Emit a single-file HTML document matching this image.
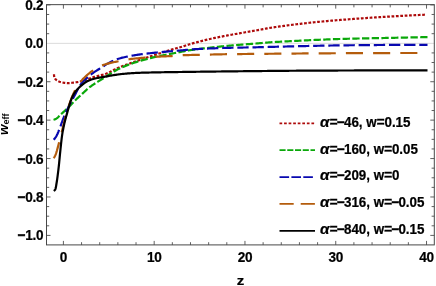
<!DOCTYPE html>
<html><head><meta charset="utf-8"><title>w_eff vs z</title>
<style>
html,body{margin:0;padding:0;background:#fff;}
div{will-change:transform;}
body{width:436px;height:286px;position:relative;overflow:hidden;font-family:"Liberation Sans",sans-serif;font-weight:bold;color:#000;}
.yl{position:absolute;left:0;width:43px;text-align:right;font-size:13.6px;letter-spacing:-0.3px;line-height:16px;height:16px;white-space:nowrap;}
.xl{position:absolute;top:250px;width:40px;text-align:center;font-size:13.6px;letter-spacing:-0.3px;line-height:16px;}
.lg{position:absolute;left:320px;font-size:13.4px;line-height:16px;white-space:nowrap;}
.zl{position:absolute;left:230px;width:20px;text-align:center;top:272.6px;font-size:13.4px;transform:translate(0.55px,0) scaleX(1.12);line-height:16px;}
.wl{position:absolute;left:-16.2px;top:116.4px;width:40px;height:16px;line-height:16px;font-size:12px;transform:rotate(-90deg);transform-origin:center center;text-align:center;white-space:nowrap;}
.wl i{display:inline-block;transform:scaleX(1.12);transform-origin:right center;will-change:auto;}
.yl,.xl{transform-origin:50% 58%;}
.lg{transform-origin:0 78%;}
.yl,.xl,.lg,.zl{-webkit-text-stroke:0.22px #000;}
.yl b,.lg b{-webkit-text-stroke:0.42px #000;}
.lg i{display:inline-block;transform:scaleX(1.14);transform-origin:left center;margin-right:1.4px;-webkit-text-stroke:0.2px #000;will-change:auto;}
.lg b{letter-spacing:-0.7px;}
.lg b.e{letter-spacing:-0.1px;}
.sub{font-size:9px;position:relative;top:1.3px;margin-left:0.5px;}
</style></head><body>
<svg width="436" height="286" viewBox="0 0 436 286" style="position:absolute;left:0;top:0">
<rect width="436" height="286" fill="#fff"/>
<line x1="46.5" y1="43.349999999999994" x2="434.3" y2="43.349999999999994" stroke="#b4b4b4" stroke-width="0.5"/>
<path d="M54.00,74.30 L54.04,75.32 L54.13,76.31 L54.31,77.27 L54.75,78.19 L55.30,79.01 L56.01,79.73 L56.80,80.33 L57.65,80.87 L58.54,81.32 L59.46,81.72 L60.41,82.02 L61.38,82.26 L62.36,82.48 L63.34,82.67 L64.32,82.81 L65.32,82.92 L66.31,83.01 L67.31,83.07 L68.31,83.10 L69.30,83.08 L70.30,83.00 L71.30,82.90 L72.29,82.78 L73.28,82.67 L74.27,82.55 L75.26,82.41 L76.25,82.26 L77.23,82.09 L78.22,81.92 L79.20,81.72 L80.17,81.50 L81.14,81.26 L82.10,81.00 L83.05,80.71 L84.00,80.39 L84.95,80.06 L85.89,79.73 L86.83,79.40 L87.78,79.07 L88.73,78.76 L89.67,78.44 L90.62,78.12 L91.56,77.79 L92.51,77.48 L93.46,77.17 L94.41,76.87 L95.37,76.59 L96.34,76.33 L97.31,76.09 L98.28,75.86 L99.26,75.63 L100.24,75.40 L101.21,75.17 L102.18,74.93 L103.14,74.67 L104.09,74.39 L105.03,74.09 L105.96,73.75 L106.88,73.38 L107.79,72.98 L108.69,72.57 L109.59,72.13 L110.49,71.68 L111.38,71.22 L112.27,70.75 L113.16,70.29 L114.05,69.82 L114.95,69.36 L115.85,68.92 L116.75,68.49 L117.66,68.07 L118.58,67.68 L119.50,67.31 L120.42,66.93 L121.35,66.56 L122.28,66.20 L123.21,65.84 L124.14,65.49 L125.08,65.14 L126.02,64.79 L126.95,64.45 L127.89,64.11 L128.83,63.77 L129.78,63.43 L130.72,63.10 L131.66,62.77 L132.60,62.43 L133.55,62.10 L134.49,61.77 L135.43,61.44 L136.38,61.11 L137.32,60.78 L138.26,60.46 L139.20,60.13 L140.15,59.81 L141.09,59.48 L142.04,59.16 L142.99,58.85 L143.93,58.53 L144.88,58.21 L145.83,57.90 L146.78,57.58 L147.72,57.27 L148.67,56.96 L149.62,56.65 L150.57,56.34 L151.52,56.03 L152.47,55.72 L153.42,55.41 L154.37,55.10 L155.32,54.80 L156.27,54.49 L157.22,54.18 L158.17,53.87 L159.12,53.56 L160.07,53.25 L161.02,52.94 L161.97,52.64 L162.92,52.33 L163.87,52.03 L164.82,51.72 L165.77,51.42 L166.73,51.12 L167.68,50.82 L168.63,50.53 L169.59,50.23 L170.54,49.94 L171.50,49.66 L172.46,49.38 L173.41,49.10 L174.37,48.82 L175.34,48.56 L176.30,48.30 L177.27,48.05 L178.23,47.79 L179.20,47.53 L180.16,47.25 L181.11,46.97 L182.07,46.68 L183.02,46.39 L183.98,46.09 L184.93,45.79 L185.88,45.48 L186.83,45.18 L187.78,44.87 L188.73,44.57 L189.69,44.27 L190.64,43.98 L191.60,43.69 L192.56,43.41 L193.52,43.14 L194.48,42.87 L195.44,42.61 L196.40,42.35 L197.37,42.09 L198.33,41.84 L199.30,41.59 L200.27,41.33 L201.24,41.09 L202.20,40.84 L203.17,40.60 L204.14,40.36 L205.11,40.12 L206.09,39.89 L207.06,39.66 L208.03,39.43 L209.00,39.21 L209.98,38.98 L210.95,38.77 L211.92,38.55 L212.90,38.34 L213.87,38.13 L214.85,37.92 L215.83,37.72 L216.81,37.52 L217.79,37.33 L218.76,37.13 L219.74,36.94 L220.72,36.75 L221.71,36.56 L222.69,36.37 L223.67,36.18 L224.65,36.00 L225.63,35.81 L226.61,35.63 L227.60,35.45 L228.58,35.26 L229.56,35.08 L230.54,34.90 L231.52,34.72 L232.50,34.54 L233.49,34.36 L234.47,34.18 L235.45,34.01 L236.43,33.83 L237.42,33.66 L238.40,33.48 L239.38,33.31 L240.37,33.14 L241.35,32.97 L242.34,32.80 L243.32,32.63 L244.30,32.46 L245.29,32.29 L246.27,32.12 L247.26,31.95 L248.24,31.78 L249.22,31.61 L250.21,31.44 L251.19,31.27 L252.17,31.09 L253.16,30.92 L254.14,30.75 L255.13,30.58 L256.11,30.40 L257.09,30.23 L258.07,30.05 L259.06,29.87 L260.04,29.69 L261.02,29.51 L262.00,29.33 L262.99,29.15 L263.97,28.97 L264.95,28.79 L265.93,28.62 L266.92,28.44 L267.90,28.27 L268.89,28.10 L269.87,27.94 L270.86,27.78 L271.84,27.62 L272.83,27.47 L273.81,27.32 L274.80,27.18 L275.79,27.03 L276.78,26.88 L277.76,26.74 L278.75,26.60 L279.74,26.46 L280.73,26.33 L281.72,26.19 L282.71,26.05 L283.70,25.92 L284.69,25.79 L285.68,25.66 L286.67,25.53 L287.66,25.40 L288.65,25.27 L289.64,25.15 L290.63,25.02 L291.62,24.90 L292.61,24.77 L293.61,24.65 L294.60,24.53 L295.59,24.40 L296.58,24.28 L297.57,24.16 L298.56,24.04 L299.55,23.92 L300.54,23.80 L301.53,23.69 L302.53,23.57 L303.52,23.45 L304.51,23.34 L305.50,23.22 L306.49,23.11 L307.49,23.00 L308.48,22.89 L309.47,22.78 L310.46,22.67 L311.46,22.57 L312.45,22.46 L313.44,22.36 L314.44,22.26 L315.43,22.16 L316.42,22.06 L317.42,21.96 L318.41,21.86 L319.40,21.77 L320.40,21.67 L321.39,21.58 L322.39,21.49 L323.38,21.40 L324.37,21.30 L325.37,21.21 L326.36,21.12 L327.36,21.04 L328.35,20.95 L329.35,20.86 L330.34,20.77 L331.34,20.69 L332.33,20.60 L333.33,20.52 L334.32,20.43 L335.32,20.35 L336.31,20.27 L337.31,20.19 L338.30,20.11 L339.30,20.03 L340.29,19.95 L341.29,19.87 L342.29,19.79 L343.28,19.71 L344.28,19.63 L345.27,19.56 L346.27,19.48 L347.26,19.40 L348.26,19.33 L349.25,19.25 L350.25,19.18 L351.24,19.10 L352.24,19.03 L353.24,18.96 L354.23,18.88 L355.23,18.81 L356.22,18.74 L357.22,18.67 L358.22,18.60 L359.21,18.52 L360.21,18.45 L361.20,18.38 L362.20,18.31 L363.20,18.25 L364.19,18.18 L365.19,18.11 L366.18,18.04 L367.18,17.97 L368.18,17.91 L369.17,17.84 L370.17,17.77 L371.17,17.71 L372.16,17.64 L373.16,17.58 L374.16,17.51 L375.15,17.45 L376.15,17.39 L377.14,17.32 L378.14,17.26 L379.14,17.20 L380.13,17.14 L381.13,17.07 L382.13,17.01 L383.12,16.95 L384.12,16.89 L385.12,16.83 L386.11,16.77 L387.11,16.71 L388.11,16.65 L389.10,16.60 L390.10,16.54 L391.10,16.48 L392.09,16.42 L393.09,16.36 L394.09,16.31 L395.08,16.25 L396.08,16.19 L397.08,16.14 L398.08,16.08 L399.07,16.02 L400.07,15.97 L401.07,15.91 L402.06,15.86 L403.06,15.81 L404.06,15.75 L405.05,15.70 L406.05,15.64 L407.05,15.59 L408.05,15.54 L409.04,15.49 L410.04,15.43 L411.04,15.38 L412.03,15.33 L413.03,15.28 L414.03,15.23 L415.03,15.18 L416.02,15.13 L417.02,15.08 L418.02,15.03 L419.02,14.98 L420.01,14.93 L421.01,14.89 L422.01,14.84 L423.01,14.79 L424.00,14.75 L425.00,14.70" fill="none" stroke="#ad0a0a" stroke-width="2.2" stroke-dasharray="2.742 1.645" stroke-linecap="butt" stroke-linejoin="round"/>
<path d="M53.50,119.80 L54.48,119.49 L55.41,119.11 L56.28,118.67 L57.08,118.14 L57.82,117.49 L58.52,116.77 L59.22,116.01 L59.92,115.27 L60.64,114.58 L61.37,113.91 L62.11,113.23 L62.85,112.56 L63.59,111.89 L64.33,111.22 L65.06,110.55 L65.80,109.87 L66.52,109.18 L67.24,108.50 L67.96,107.80 L68.68,107.11 L69.39,106.41 L70.10,105.70 L70.80,105.00 L71.49,104.28 L72.18,103.56 L72.87,102.83 L73.55,102.10 L74.24,101.38 L74.94,100.67 L75.64,99.96 L76.35,99.26 L77.07,98.57 L77.80,97.89 L78.53,97.21 L79.26,96.53 L80.00,95.86 L80.74,95.19 L81.48,94.52 L82.22,93.85 L82.96,93.18 L83.69,92.50 L84.42,91.82 L85.14,91.12 L85.86,90.42 L86.58,89.74 L87.32,89.07 L88.08,88.43 L88.86,87.82 L89.64,87.22 L90.44,86.62 L91.24,86.04 L92.06,85.47 L92.88,84.90 L93.70,84.34 L94.54,83.79 L95.37,83.24 L96.22,82.70 L97.06,82.16 L97.91,81.63 L98.76,81.10 L99.61,80.57 L100.47,80.04 L101.32,79.52 L102.17,78.99 L103.02,78.46 L103.87,77.93 L104.71,77.39 L105.55,76.86 L106.39,76.31 L107.23,75.76 L108.07,75.21 L108.91,74.66 L109.75,74.11 L110.59,73.57 L111.43,73.03 L112.28,72.49 L113.13,71.97 L113.98,71.45 L114.84,70.95 L115.71,70.46 L116.58,69.98 L117.45,69.52 L118.34,69.08 L119.23,68.65 L120.13,68.24 L121.03,67.82 L121.94,67.42 L122.85,67.02 L123.77,66.63 L124.69,66.24 L125.62,65.86 L126.55,65.49 L127.49,65.13 L128.42,64.77 L129.36,64.42 L130.31,64.07 L131.25,63.73 L132.20,63.40 L133.14,63.07 L134.09,62.75 L135.04,62.44 L135.98,62.13 L136.93,61.83 L137.88,61.53 L138.83,61.24 L139.78,60.95 L140.74,60.67 L141.70,60.39 L142.66,60.12 L143.62,59.85 L144.58,59.59 L145.55,59.33 L146.52,59.07 L147.48,58.82 L148.45,58.58 L149.42,58.33 L150.39,58.09 L151.36,57.86 L152.33,57.62 L153.31,57.39 L154.28,57.17 L155.25,56.94 L156.22,56.72 L157.19,56.51 L158.17,56.30 L159.14,56.09 L160.12,55.88 L161.10,55.68 L162.07,55.48 L163.05,55.29 L164.03,55.09 L165.01,54.90 L165.99,54.71 L166.97,54.52 L167.95,54.33 L168.93,54.15 L169.92,53.96 L170.90,53.78 L171.88,53.59 L172.86,53.40 L173.84,53.22 L174.82,53.03 L175.80,52.84 L176.78,52.65 L177.76,52.46 L178.74,52.27 L179.72,52.08 L180.70,51.89 L181.68,51.70 L182.66,51.51 L183.64,51.33 L184.62,51.15 L185.60,50.97 L186.59,50.79 L187.57,50.62 L188.55,50.45 L189.54,50.28 L190.52,50.12 L191.50,49.97 L192.49,49.82 L193.48,49.67 L194.46,49.54 L195.45,49.40 L196.44,49.27 L197.43,49.14 L198.42,49.02 L199.41,48.89 L200.40,48.77 L201.39,48.65 L202.38,48.54 L203.37,48.43 L204.37,48.31 L205.36,48.20 L206.35,48.09 L207.34,47.98 L208.33,47.87 L209.33,47.76 L210.32,47.65 L211.31,47.54 L212.30,47.43 L213.29,47.32 L214.29,47.21 L215.28,47.10 L216.27,47.00 L217.26,46.89 L218.25,46.78 L219.25,46.67 L220.24,46.57 L221.23,46.46 L222.22,46.36 L223.22,46.26 L224.21,46.16 L225.20,46.06 L226.19,45.96 L227.19,45.86 L228.18,45.77 L229.17,45.68 L230.17,45.58 L231.16,45.50 L232.15,45.41 L233.15,45.32 L234.14,45.24 L235.14,45.15 L236.13,45.07 L237.13,44.99 L238.12,44.91 L239.12,44.83 L240.11,44.75 L241.10,44.68 L242.10,44.60 L243.09,44.52 L244.09,44.45 L245.08,44.37 L246.08,44.30 L247.07,44.22 L248.07,44.14 L249.06,44.07 L250.06,43.99 L251.05,43.91 L252.05,43.84 L253.04,43.76 L254.04,43.68 L255.03,43.60 L256.03,43.52 L257.02,43.43 L258.02,43.35 L259.01,43.26 L260.00,43.17 L261.00,43.09 L261.99,43.00 L262.99,42.91 L263.98,42.83 L264.98,42.74 L265.97,42.66 L266.96,42.58 L267.96,42.50 L268.95,42.42 L269.95,42.34 L270.94,42.27 L271.94,42.20 L272.93,42.14 L273.93,42.08 L274.93,42.01 L275.92,41.95 L276.92,41.90 L277.91,41.84 L278.91,41.78 L279.91,41.73 L280.90,41.67 L281.90,41.62 L282.90,41.57 L283.89,41.52 L284.89,41.46 L285.89,41.41 L286.88,41.36 L287.88,41.31 L288.88,41.26 L289.87,41.21 L290.87,41.16 L291.87,41.11 L292.86,41.06 L293.86,41.01 L294.85,40.96 L295.85,40.90 L296.85,40.85 L297.84,40.80 L298.84,40.75 L299.84,40.69 L300.83,40.64 L301.83,40.59 L302.83,40.54 L303.82,40.48 L304.82,40.43 L305.82,40.38 L306.81,40.33 L307.81,40.28 L308.81,40.23 L309.80,40.18 L310.80,40.14 L311.80,40.09 L312.79,40.04 L313.79,40.00 L314.79,39.95 L315.78,39.91 L316.78,39.87 L317.78,39.82 L318.77,39.78 L319.77,39.74 L320.77,39.70 L321.76,39.66 L322.76,39.62 L323.76,39.58 L324.76,39.54 L325.75,39.50 L326.75,39.46 L327.75,39.42 L328.74,39.38 L329.74,39.34 L330.74,39.30 L331.74,39.26 L332.73,39.23 L333.73,39.19 L334.73,39.16 L335.72,39.12 L336.72,39.09 L337.72,39.05 L338.72,39.02 L339.71,38.99 L340.71,38.95 L341.71,38.92 L342.70,38.89 L343.70,38.86 L344.70,38.84 L345.70,38.81 L346.69,38.78 L347.69,38.76 L348.69,38.73 L349.69,38.70 L350.68,38.68 L351.68,38.66 L352.68,38.63 L353.68,38.61 L354.67,38.59 L355.67,38.56 L356.67,38.54 L357.67,38.52 L358.66,38.50 L359.66,38.48 L360.66,38.46 L361.66,38.44 L362.65,38.42 L363.65,38.40 L364.65,38.38 L365.65,38.36 L366.65,38.34 L367.64,38.32 L368.64,38.30 L369.64,38.28 L370.64,38.26 L371.63,38.24 L372.63,38.22 L373.63,38.21 L374.63,38.19 L375.62,38.17 L376.62,38.15 L377.62,38.13 L378.62,38.11 L379.62,38.09 L380.61,38.07 L381.61,38.05 L382.61,38.03 L383.61,38.01 L384.60,37.99 L385.60,37.97 L386.60,37.95 L387.60,37.92 L388.59,37.90 L389.59,37.88 L390.59,37.86 L391.59,37.84 L392.58,37.82 L393.58,37.80 L394.58,37.78 L395.58,37.76 L396.57,37.74 L397.57,37.72 L398.57,37.70 L399.57,37.68 L400.56,37.66 L401.56,37.63 L402.56,37.61 L403.56,37.59 L404.56,37.57 L405.55,37.55 L406.55,37.53 L407.55,37.51 L408.55,37.49 L409.54,37.47 L410.54,37.45 L411.54,37.43 L412.54,37.41 L413.53,37.39 L414.53,37.37 L415.53,37.35 L416.53,37.33 L417.52,37.30 L418.52,37.28 L419.52,37.26 L420.52,37.24 L421.51,37.22 L422.51,37.20 L423.51,37.18 L424.51,37.16 L425.50,37.14 L426.50,37.12 L427.50,37.10" fill="none" stroke="#0aa80a" stroke-width="2.2" stroke-dasharray="7.336 2.361" stroke-linecap="butt" stroke-linejoin="round"/>
<path d="M53.70,139.80 L54.34,139.02 L54.97,138.23 L55.55,137.41 L56.10,136.58 L56.59,135.73 L57.04,134.86 L57.46,133.96 L57.86,133.05 L58.24,132.12 L58.60,131.18 L58.96,130.24 L59.31,129.29 L59.67,128.35 L60.03,127.42 L60.39,126.49 L60.75,125.55 L61.09,124.62 L61.43,123.68 L61.77,122.74 L62.11,121.79 L62.45,120.85 L62.79,119.92 L63.14,118.98 L63.50,118.05 L63.86,117.12 L64.24,116.20 L64.63,115.28 L65.03,114.36 L65.44,113.45 L65.85,112.54 L66.27,111.63 L66.69,110.73 L67.13,109.83 L67.56,108.93 L68.00,108.03 L68.44,107.13 L68.88,106.23 L69.33,105.34 L69.78,104.45 L70.24,103.56 L70.70,102.68 L71.17,101.80 L71.64,100.91 L72.11,100.03 L72.59,99.16 L73.07,98.28 L73.55,97.40 L74.03,96.53 L74.51,95.65 L74.99,94.77 L75.46,93.88 L75.92,92.98 L76.38,92.08 L76.84,91.17 L77.30,90.27 L77.76,89.37 L78.24,88.49 L78.73,87.61 L79.23,86.75 L79.75,85.91 L80.29,85.09 L80.85,84.30 L81.44,83.54 L82.06,82.78 L82.70,82.04 L83.38,81.31 L84.07,80.59 L84.78,79.88 L85.51,79.19 L86.26,78.50 L87.02,77.82 L87.79,77.16 L88.56,76.50 L89.35,75.86 L90.13,75.22 L90.92,74.60 L91.71,73.98 L92.49,73.38 L93.29,72.79 L94.11,72.22 L94.94,71.66 L95.77,71.11 L96.62,70.57 L97.47,70.03 L98.32,69.50 L99.16,68.96 L100.00,68.42 L100.84,67.87 L101.68,67.33 L102.52,66.78 L103.36,66.24 L104.21,65.70 L105.05,65.17 L105.91,64.65 L106.77,64.14 L107.63,63.64 L108.50,63.17 L109.38,62.71 L110.27,62.25 L111.17,61.80 L112.07,61.35 L112.98,60.91 L113.89,60.49 L114.81,60.09 L115.74,59.70 L116.67,59.35 L117.60,59.02 L118.54,58.73 L119.49,58.45 L120.44,58.19 L121.40,57.93 L122.36,57.68 L123.33,57.45 L124.31,57.22 L125.28,56.99 L126.26,56.78 L127.25,56.57 L128.23,56.37 L129.22,56.18 L130.21,55.99 L131.20,55.81 L132.18,55.64 L133.17,55.47 L134.16,55.30 L135.15,55.14 L136.14,54.99 L137.12,54.84 L138.11,54.69 L139.10,54.55 L140.08,54.41 L141.07,54.28 L142.06,54.15 L143.06,54.02 L144.05,53.90 L145.04,53.78 L146.03,53.66 L147.03,53.55 L148.02,53.44 L149.02,53.33 L150.01,53.22 L151.00,53.11 L152.00,53.01 L152.99,52.91 L153.99,52.80 L154.98,52.70 L155.97,52.60 L156.97,52.50 L157.96,52.41 L158.96,52.31 L159.95,52.22 L160.95,52.13 L161.94,52.04 L162.94,51.95 L163.93,51.86 L164.93,51.78 L165.92,51.69 L166.92,51.61 L167.91,51.52 L168.91,51.44 L169.90,51.36 L170.90,51.27 L171.90,51.19 L172.89,51.11 L173.89,51.03 L174.88,50.94 L175.88,50.86 L176.87,50.77 L177.87,50.69 L178.86,50.60 L179.86,50.51 L180.85,50.42 L181.85,50.33 L182.84,50.23 L183.84,50.14 L184.83,50.04 L185.83,49.94 L186.82,49.84 L187.82,49.75 L188.81,49.66 L189.81,49.57 L190.80,49.48 L191.80,49.41 L192.79,49.33 L193.79,49.27 L194.79,49.21 L195.78,49.15 L196.78,49.09 L197.78,49.03 L198.78,48.98 L199.77,48.93 L200.77,48.88 L201.77,48.83 L202.77,48.78 L203.77,48.73 L204.76,48.69 L205.76,48.64 L206.76,48.60 L207.76,48.56 L208.76,48.52 L209.75,48.48 L210.75,48.44 L211.75,48.40 L212.75,48.36 L213.75,48.32 L214.75,48.28 L215.74,48.25 L216.74,48.21 L217.74,48.17 L218.74,48.14 L219.74,48.11 L220.74,48.07 L221.74,48.04 L222.73,48.01 L223.73,47.98 L224.73,47.95 L225.73,47.92 L226.73,47.89 L227.73,47.86 L228.73,47.83 L229.72,47.81 L230.72,47.78 L231.72,47.76 L232.72,47.74 L233.72,47.71 L234.72,47.69 L235.72,47.67 L236.72,47.65 L237.71,47.63 L238.71,47.61 L239.71,47.59 L240.71,47.57 L241.71,47.56 L242.71,47.54 L243.71,47.52 L244.71,47.50 L245.70,47.48 L246.70,47.46 L247.70,47.45 L248.70,47.43 L249.70,47.41 L250.70,47.39 L251.70,47.37 L252.70,47.35 L253.70,47.33 L254.69,47.31 L255.69,47.28 L256.69,47.26 L257.69,47.24 L258.69,47.21 L259.69,47.19 L260.69,47.17 L261.69,47.14 L262.68,47.12 L263.68,47.09 L264.68,47.06 L265.68,47.04 L266.68,47.01 L267.68,46.98 L268.68,46.96 L269.67,46.93 L270.67,46.90 L271.67,46.88 L272.67,46.85 L273.67,46.82 L274.67,46.79 L275.67,46.77 L276.67,46.74 L277.66,46.71 L278.66,46.69 L279.66,46.66 L280.66,46.63 L281.66,46.61 L282.66,46.58 L283.66,46.55 L284.65,46.53 L285.65,46.50 L286.65,46.48 L287.65,46.45 L288.65,46.43 L289.65,46.40 L290.65,46.38 L291.65,46.35 L292.64,46.33 L293.64,46.31 L294.64,46.29 L295.64,46.26 L296.64,46.24 L297.64,46.22 L298.64,46.20 L299.64,46.17 L300.63,46.15 L301.63,46.13 L302.63,46.11 L303.63,46.08 L304.63,46.06 L305.63,46.04 L306.63,46.01 L307.63,45.99 L308.62,45.97 L309.62,45.95 L310.62,45.92 L311.62,45.90 L312.62,45.88 L313.62,45.86 L314.62,45.83 L315.62,45.81 L316.62,45.79 L317.61,45.77 L318.61,45.75 L319.61,45.73 L320.61,45.71 L321.61,45.69 L322.61,45.67 L323.61,45.65 L324.61,45.63 L325.60,45.61 L326.60,45.59 L327.60,45.57 L328.60,45.55 L329.60,45.53 L330.60,45.51 L331.60,45.50 L332.60,45.48 L333.60,45.46 L334.59,45.45 L335.59,45.43 L336.59,45.42 L337.59,45.40 L338.59,45.39 L339.59,45.37 L340.59,45.36 L341.59,45.35 L342.59,45.34 L343.58,45.33 L344.58,45.31 L345.58,45.30 L346.58,45.29 L347.58,45.28 L348.58,45.28 L349.58,45.27 L350.58,45.26 L351.58,45.25 L352.57,45.24 L353.57,45.23 L354.57,45.22 L355.57,45.21 L356.57,45.20 L357.57,45.19 L358.57,45.18 L359.57,45.17 L360.57,45.16 L361.57,45.15 L362.56,45.14 L363.56,45.14 L364.56,45.13 L365.56,45.12 L366.56,45.11 L367.56,45.10 L368.56,45.09 L369.56,45.08 L370.56,45.08 L371.55,45.07 L372.55,45.06 L373.55,45.05 L374.55,45.04 L375.55,45.03 L376.55,45.03 L377.55,45.02 L378.55,45.01 L379.55,45.00 L380.55,45.00 L381.54,44.99 L382.54,44.98 L383.54,44.97 L384.54,44.97 L385.54,44.96 L386.54,44.95 L387.54,44.95 L388.54,44.94 L389.54,44.93 L390.54,44.93 L391.53,44.92 L392.53,44.91 L393.53,44.91 L394.53,44.90 L395.53,44.90 L396.53,44.89 L397.53,44.89 L398.53,44.88 L399.53,44.88 L400.53,44.87 L401.52,44.87 L402.52,44.86 L403.52,44.86 L404.52,44.85 L405.52,44.85 L406.52,44.84 L407.52,44.84 L408.52,44.84 L409.52,44.83 L410.52,44.83 L411.51,44.83 L412.51,44.82 L413.51,44.82 L414.51,44.82 L415.51,44.81 L416.51,44.81 L417.51,44.81 L418.51,44.81 L419.51,44.81 L420.51,44.81 L421.51,44.80 L422.50,44.80 L423.50,44.80 L424.50,44.80 L425.50,44.80 L426.50,44.80 L427.50,44.80" fill="none" stroke="#0808b0" stroke-width="2.2" stroke-dasharray="11.338 3.829" stroke-linecap="butt" stroke-linejoin="round"/>
<path d="M53.70,158.30 L54.20,157.43 L54.68,156.54 L55.13,155.65 L55.54,154.75 L55.90,153.83 L56.23,152.90 L56.54,151.95 L56.83,151.00 L57.10,150.04 L57.36,149.07 L57.62,148.10 L57.86,147.13 L58.11,146.16 L58.36,145.19 L58.62,144.23 L58.88,143.26 L59.13,142.30 L59.39,141.33 L59.64,140.37 L59.88,139.40 L60.13,138.43 L60.37,137.47 L60.62,136.50 L60.86,135.53 L61.10,134.56 L61.34,133.59 L61.59,132.63 L61.83,131.66 L62.08,130.69 L62.32,129.73 L62.57,128.76 L62.81,127.79 L63.05,126.82 L63.28,125.85 L63.52,124.88 L63.76,123.91 L64.00,122.94 L64.25,121.98 L64.49,121.01 L64.74,120.04 L64.98,119.08 L65.24,118.11 L65.49,117.15 L65.75,116.19 L66.02,115.22 L66.29,114.26 L66.56,113.30 L66.84,112.34 L67.11,111.38 L67.39,110.43 L67.68,109.47 L67.97,108.51 L68.26,107.56 L68.56,106.60 L68.87,105.65 L69.18,104.71 L69.49,103.76 L69.82,102.82 L70.15,101.88 L70.49,100.94 L70.83,100.00 L71.18,99.07 L71.54,98.13 L71.91,97.20 L72.29,96.27 L72.68,95.35 L73.09,94.44 L73.50,93.54 L73.93,92.65 L74.37,91.76 L74.83,90.88 L75.30,89.99 L75.79,89.12 L76.29,88.24 L76.80,87.38 L77.33,86.52 L77.87,85.67 L78.43,84.83 L78.99,84.00 L79.57,83.19 L80.16,82.39 L80.76,81.61 L81.37,80.84 L82.01,80.09 L82.67,79.35 L83.36,78.63 L84.07,77.91 L84.79,77.21 L85.52,76.52 L86.26,75.84 L87.01,75.17 L87.76,74.51 L88.51,73.86 L89.27,73.22 L90.05,72.58 L90.84,71.96 L91.64,71.37 L92.46,70.80 L93.28,70.25 L94.12,69.72 L94.97,69.19 L95.83,68.67 L96.70,68.16 L97.57,67.66 L98.46,67.18 L99.35,66.72 L100.25,66.29 L101.16,65.87 L102.07,65.49 L102.99,65.13 L103.92,64.80 L104.86,64.48 L105.81,64.18 L106.77,63.90 L107.74,63.63 L108.71,63.37 L109.68,63.12 L110.65,62.88 L111.62,62.65 L112.59,62.44 L113.57,62.23 L114.55,62.03 L115.53,61.84 L116.51,61.65 L117.49,61.46 L118.47,61.27 L119.45,61.07 L120.42,60.87 L121.40,60.67 L122.38,60.46 L123.36,60.26 L124.34,60.07 L125.32,59.88 L126.30,59.69 L127.28,59.52 L128.26,59.36 L129.25,59.22 L130.24,59.09 L131.22,58.96 L132.21,58.85 L133.20,58.73 L134.20,58.62 L135.19,58.52 L136.18,58.42 L137.18,58.32 L138.17,58.23 L139.16,58.14 L140.16,58.05 L141.15,57.96 L142.15,57.87 L143.14,57.78 L144.14,57.69 L145.13,57.60 L146.12,57.51 L147.12,57.42 L148.11,57.33 L149.10,57.24 L150.10,57.16 L151.09,57.08 L152.09,57.00 L153.08,56.93 L154.08,56.86 L155.07,56.80 L156.07,56.74 L157.07,56.69 L158.06,56.64 L159.06,56.59 L160.05,56.54 L161.05,56.50 L162.05,56.46 L163.05,56.42 L164.04,56.38 L165.04,56.34 L166.04,56.30 L167.03,56.26 L168.03,56.22 L169.03,56.18 L170.02,56.13 L171.02,56.08 L172.02,56.03 L173.01,55.97 L174.01,55.90 L175.00,55.82 L176.00,55.74 L176.99,55.65 L177.99,55.57 L178.98,55.48 L179.98,55.40 L180.97,55.33 L181.97,55.26 L182.96,55.21 L183.96,55.18 L184.95,55.14 L185.95,55.11 L186.95,55.08 L187.95,55.05 L188.94,55.03 L189.94,55.00 L190.94,54.98 L191.94,54.96 L192.93,54.94 L193.93,54.92 L194.93,54.90 L195.93,54.88 L196.92,54.86 L197.92,54.84 L198.92,54.82 L199.92,54.80 L200.91,54.77 L201.91,54.75 L202.91,54.73 L203.91,54.70 L204.90,54.68 L205.90,54.65 L206.90,54.63 L207.90,54.61 L208.89,54.58 L209.89,54.56 L210.89,54.53 L211.89,54.51 L212.88,54.49 L213.88,54.46 L214.88,54.44 L215.88,54.42 L216.87,54.39 L217.87,54.37 L218.87,54.35 L219.87,54.33 L220.86,54.31 L221.86,54.29 L222.86,54.27 L223.86,54.26 L224.85,54.24 L225.85,54.22 L226.85,54.21 L227.85,54.19 L228.84,54.18 L229.84,54.16 L230.84,54.15 L231.84,54.14 L232.83,54.13 L233.83,54.11 L234.83,54.10 L235.83,54.09 L236.82,54.08 L237.82,54.07 L238.82,54.06 L239.82,54.05 L240.81,54.04 L241.81,54.03 L242.81,54.02 L243.81,54.01 L244.80,54.00 L245.80,53.99 L246.80,53.98 L247.80,53.97 L248.80,53.96 L249.79,53.95 L250.79,53.94 L251.79,53.93 L252.79,53.92 L253.78,53.91 L254.78,53.90 L255.78,53.89 L256.78,53.88 L257.77,53.87 L258.77,53.86 L259.77,53.86 L260.77,53.85 L261.76,53.84 L262.76,53.83 L263.76,53.82 L264.76,53.81 L265.76,53.80 L266.75,53.79 L267.75,53.78 L268.75,53.77 L269.75,53.76 L270.74,53.75 L271.74,53.74 L272.74,53.74 L273.74,53.73 L274.73,53.72 L275.73,53.71 L276.73,53.70 L277.73,53.69 L278.72,53.68 L279.72,53.67 L280.72,53.66 L281.72,53.65 L282.72,53.64 L283.71,53.64 L284.71,53.63 L285.71,53.62 L286.71,53.61 L287.70,53.60 L288.70,53.59 L289.70,53.58 L290.70,53.57 L291.69,53.56 L292.69,53.56 L293.69,53.55 L294.69,53.54 L295.68,53.53 L296.68,53.52 L297.68,53.51 L298.68,53.51 L299.68,53.50 L300.67,53.49 L301.67,53.48 L302.67,53.47 L303.67,53.46 L304.66,53.46 L305.66,53.45 L306.66,53.44 L307.66,53.43 L308.65,53.43 L309.65,53.42 L310.65,53.41 L311.65,53.40 L312.64,53.40 L313.64,53.39 L314.64,53.38 L315.64,53.37 L316.64,53.37 L317.63,53.36 L318.63,53.35 L319.63,53.35 L320.63,53.34 L321.62,53.33 L322.62,53.33 L323.62,53.32 L324.62,53.31 L325.61,53.31 L326.61,53.30 L327.61,53.29 L328.61,53.29 L329.60,53.28 L330.60,53.28 L331.60,53.27 L332.60,53.26 L333.60,53.26 L334.59,53.25 L335.59,53.25 L336.59,53.24 L337.59,53.24 L338.58,53.23 L339.58,53.23 L340.58,53.22 L341.58,53.22 L342.57,53.21 L343.57,53.21 L344.57,53.21 L345.57,53.20 L346.56,53.20 L347.56,53.19 L348.56,53.19 L349.56,53.19 L350.56,53.18 L351.55,53.18 L352.55,53.17 L353.55,53.17 L354.55,53.17 L355.54,53.16 L356.54,53.16 L357.54,53.15 L358.54,53.15 L359.53,53.15 L360.53,53.14 L361.53,53.14 L362.53,53.14 L363.53,53.13 L364.52,53.13 L365.52,53.12 L366.52,53.12 L367.52,53.12 L368.51,53.11 L369.51,53.11 L370.51,53.11 L371.51,53.10 L372.50,53.10 L373.50,53.10 L374.50,53.09 L375.50,53.09 L376.50,53.09 L377.49,53.08 L378.49,53.08 L379.49,53.08 L380.49,53.07 L381.48,53.07 L382.48,53.07 L383.48,53.06 L384.48,53.06 L385.47,53.06 L386.47,53.06 L387.47,53.05 L388.47,53.05 L389.46,53.05 L390.46,53.05 L391.46,53.04 L392.46,53.04 L393.46,53.04 L394.45,53.04 L395.45,53.03 L396.45,53.03 L397.45,53.03 L398.44,53.03 L399.44,53.02 L400.44,53.02 L401.44,53.02 L402.43,53.02 L403.43,53.02 L404.43,53.02 L405.43,53.01 L406.43,53.01 L407.42,53.01 L408.42,53.01 L409.42,53.01 L410.42,53.01 L411.41,53.01 L412.41,53.00 L413.41,53.00 L414.41,53.00 L415.40,53.00 L416.40,53.00 L417.40,53.00" fill="none" stroke="#b45c0c" stroke-width="2.2" stroke-dasharray="17.100 10.100" stroke-linecap="butt" stroke-linejoin="round"/>
<path d="M53.70,190.90 L54.61,190.32 L55.18,189.64 L55.50,188.81 L55.76,187.88 L55.96,186.87 L56.14,185.82 L56.30,184.76 L56.46,183.74 L56.63,182.75 L56.79,181.77 L56.94,180.78 L57.09,179.79 L57.23,178.80 L57.36,177.81 L57.50,176.82 L57.63,175.83 L57.75,174.84 L57.88,173.85 L58.01,172.86 L58.13,171.87 L58.26,170.87 L58.38,169.88 L58.49,168.89 L58.61,167.90 L58.72,166.90 L58.83,165.91 L58.94,164.92 L59.04,163.92 L59.15,162.93 L59.24,161.94 L59.34,160.94 L59.43,159.95 L59.53,158.95 L59.62,157.96 L59.72,156.96 L59.81,155.97 L59.91,154.97 L60.01,153.98 L60.11,152.98 L60.22,151.99 L60.32,151.00 L60.42,150.00 L60.52,149.01 L60.62,148.01 L60.72,147.02 L60.82,146.02 L60.92,145.03 L61.03,144.03 L61.13,143.04 L61.25,142.04 L61.36,141.05 L61.48,140.06 L61.60,139.07 L61.72,138.08 L61.85,137.09 L61.99,136.10 L62.13,135.11 L62.28,134.13 L62.43,133.14 L62.60,132.16 L62.78,131.17 L62.96,130.19 L63.15,129.21 L63.34,128.22 L63.54,127.24 L63.75,126.27 L63.96,125.29 L64.17,124.31 L64.39,123.34 L64.62,122.37 L64.85,121.40 L65.10,120.43 L65.35,119.46 L65.61,118.50 L65.87,117.53 L66.14,116.57 L66.42,115.61 L66.69,114.65 L66.97,113.68 L67.24,112.72 L67.51,111.76 L67.78,110.80 L68.04,109.83 L68.31,108.87 L68.57,107.91 L68.84,106.94 L69.12,105.98 L69.40,105.02 L69.69,104.07 L70.00,103.12 L70.31,102.17 L70.64,101.23 L70.98,100.28 L71.33,99.34 L71.70,98.41 L72.09,97.50 L72.50,96.59 L72.93,95.69 L73.40,94.80 L73.90,93.92 L74.42,93.07 L74.97,92.26 L75.56,91.46 L76.18,90.68 L76.83,89.91 L77.51,89.16 L78.20,88.43 L78.92,87.71 L79.65,87.02 L80.38,86.34 L81.13,85.69 L81.88,85.05 L82.66,84.41 L83.45,83.78 L84.27,83.17 L85.09,82.58 L85.94,82.03 L86.80,81.52 L87.66,81.06 L88.55,80.65 L89.46,80.27 L90.39,79.90 L91.34,79.57 L92.30,79.25 L93.27,78.96 L94.24,78.69 L95.20,78.45 L96.17,78.23 L97.14,78.02 L98.12,77.83 L99.11,77.64 L100.09,77.47 L101.08,77.30 L102.07,77.14 L103.06,76.97 L104.05,76.81 L105.03,76.64 L106.02,76.47 L107.00,76.30 L107.99,76.13 L108.97,75.95 L109.96,75.78 L110.94,75.61 L111.93,75.44 L112.91,75.27 L113.90,75.11 L114.89,74.95 L115.88,74.79 L116.86,74.64 L117.85,74.50 L118.84,74.37 L119.83,74.24 L120.82,74.13 L121.81,74.02 L122.81,73.92 L123.80,73.82 L124.79,73.73 L125.79,73.64 L126.78,73.55 L127.78,73.47 L128.78,73.39 L129.77,73.31 L130.77,73.24 L131.77,73.17 L132.77,73.10 L133.77,73.04 L134.76,72.99 L135.76,72.94 L136.76,72.90 L137.76,72.86 L138.76,72.82 L139.75,72.79 L140.75,72.75 L141.75,72.72 L142.75,72.69 L143.75,72.66 L144.75,72.63 L145.75,72.61 L146.74,72.58 L147.74,72.56 L148.74,72.53 L149.74,72.51 L150.74,72.49 L151.74,72.47 L152.74,72.45 L153.74,72.43 L154.74,72.41 L155.74,72.39 L156.74,72.37 L157.73,72.35 L158.73,72.33 L159.73,72.31 L160.73,72.29 L161.73,72.27 L162.73,72.26 L163.73,72.24 L164.73,72.22 L165.73,72.21 L166.73,72.19 L167.72,72.18 L168.72,72.16 L169.72,72.15 L170.72,72.13 L171.72,72.12 L172.72,72.10 L173.72,72.09 L174.72,72.07 L175.72,72.06 L176.72,72.05 L177.72,72.03 L178.71,72.02 L179.71,72.00 L180.71,71.99 L181.71,71.98 L182.71,71.96 L183.71,71.95 L184.71,71.93 L185.71,71.92 L186.71,71.91 L187.71,71.89 L188.71,71.88 L189.70,71.87 L190.70,71.85 L191.70,71.84 L192.70,71.83 L193.70,71.81 L194.70,71.80 L195.70,71.79 L196.70,71.77 L197.70,71.76 L198.70,71.75 L199.70,71.73 L200.69,71.72 L201.69,71.71 L202.69,71.70 L203.69,71.68 L204.69,71.67 L205.69,71.66 L206.69,71.65 L207.69,71.63 L208.69,71.62 L209.69,71.61 L210.69,71.60 L211.68,71.58 L212.68,71.57 L213.68,71.56 L214.68,71.55 L215.68,71.53 L216.68,71.52 L217.68,71.51 L218.68,71.50 L219.68,71.49 L220.68,71.48 L221.68,71.46 L222.67,71.45 L223.67,71.44 L224.67,71.43 L225.67,71.42 L226.67,71.41 L227.67,71.39 L228.67,71.38 L229.67,71.37 L230.67,71.36 L231.67,71.35 L232.67,71.34 L233.66,71.33 L234.66,71.32 L235.66,71.30 L236.66,71.29 L237.66,71.28 L238.66,71.27 L239.66,71.26 L240.66,71.25 L241.66,71.24 L242.66,71.23 L243.66,71.22 L244.65,71.21 L245.65,71.20 L246.65,71.19 L247.65,71.18 L248.65,71.17 L249.65,71.15 L250.65,71.14 L251.65,71.13 L252.65,71.12 L253.65,71.11 L254.65,71.10 L255.65,71.09 L256.64,71.08 L257.64,71.07 L258.64,71.06 L259.64,71.05 L260.64,71.04 L261.64,71.03 L262.64,71.02 L263.64,71.01 L264.64,71.00 L265.64,70.99 L266.64,70.98 L267.63,70.97 L268.63,70.96 L269.63,70.95 L270.63,70.94 L271.63,70.93 L272.63,70.92 L273.63,70.91 L274.63,70.90 L275.63,70.89 L276.63,70.88 L277.63,70.87 L278.63,70.87 L279.62,70.86 L280.62,70.85 L281.62,70.84 L282.62,70.83 L283.62,70.82 L284.62,70.81 L285.62,70.80 L286.62,70.80 L287.62,70.79 L288.62,70.78 L289.62,70.77 L290.61,70.76 L291.61,70.76 L292.61,70.75 L293.61,70.74 L294.61,70.73 L295.61,70.73 L296.61,70.72 L297.61,70.71 L298.61,70.71 L299.61,70.70 L300.61,70.70 L301.61,70.69 L302.60,70.69 L303.60,70.68 L304.60,70.67 L305.60,70.67 L306.60,70.66 L307.60,70.66 L308.60,70.65 L309.60,70.65 L310.60,70.64 L311.60,70.64 L312.60,70.63 L313.60,70.63 L314.59,70.62 L315.59,70.62 L316.59,70.61 L317.59,70.61 L318.59,70.60 L319.59,70.60 L320.59,70.60 L321.59,70.59 L322.59,70.59 L323.59,70.58 L324.59,70.58 L325.59,70.57 L326.58,70.57 L327.58,70.57 L328.58,70.56 L329.58,70.56 L330.58,70.55 L331.58,70.55 L332.58,70.55 L333.58,70.54 L334.58,70.54 L335.58,70.54 L336.58,70.53 L337.58,70.53 L338.57,70.52 L339.57,70.52 L340.57,70.52 L341.57,70.51 L342.57,70.51 L343.57,70.51 L344.57,70.50 L345.57,70.50 L346.57,70.50 L347.57,70.49 L348.57,70.49 L349.56,70.49 L350.56,70.49 L351.56,70.48 L352.56,70.48 L353.56,70.48 L354.56,70.47 L355.56,70.47 L356.56,70.47 L357.56,70.46 L358.56,70.46 L359.56,70.46 L360.56,70.45 L361.55,70.45 L362.55,70.45 L363.55,70.45 L364.55,70.44 L365.55,70.44 L366.55,70.44 L367.55,70.43 L368.55,70.43 L369.55,70.43 L370.55,70.42 L371.55,70.42 L372.55,70.42 L373.54,70.42 L374.54,70.41 L375.54,70.41 L376.54,70.41 L377.54,70.40 L378.54,70.40 L379.54,70.40 L380.54,70.40 L381.54,70.39 L382.54,70.39 L383.54,70.39 L384.54,70.39 L385.53,70.38 L386.53,70.38 L387.53,70.38 L388.53,70.38 L389.53,70.37 L390.53,70.37 L391.53,70.37 L392.53,70.37 L393.53,70.36 L394.53,70.36 L395.53,70.36 L396.53,70.36 L397.52,70.35 L398.52,70.35 L399.52,70.35 L400.52,70.35 L401.52,70.34 L402.52,70.34 L403.52,70.34 L404.52,70.34 L405.52,70.34 L406.52,70.33 L407.52,70.33 L408.52,70.33 L409.51,70.33 L410.51,70.33 L411.51,70.32 L412.51,70.32 L413.51,70.32 L414.51,70.32 L415.51,70.32 L416.51,70.32 L417.51,70.31 L418.51,70.31 L419.51,70.31 L420.51,70.31 L421.50,70.31 L422.50,70.31 L423.50,70.31 L424.50,70.30 L425.50,70.30 L426.50,70.30 L427.50,70.30" fill="none" stroke="#000000" stroke-width="2.2" stroke-linecap="butt" stroke-linejoin="round"/>
<rect x="46.5" y="4.65" width="387.8" height="240.25" fill="none" stroke="#484848" stroke-width="1"/>
<path d="M63.40,244.9 v-4 M63.40,4.65 v4 M81.56,244.9 v-2.7 M81.56,4.65 v2.7 M99.71,244.9 v-2.7 M99.71,4.65 v2.7 M117.87,244.9 v-2.7 M117.87,4.65 v2.7 M136.02,244.9 v-2.7 M136.02,4.65 v2.7 M154.18,244.9 v-4 M154.18,4.65 v4 M172.34,244.9 v-2.7 M172.34,4.65 v2.7 M190.49,244.9 v-2.7 M190.49,4.65 v2.7 M208.65,244.9 v-2.7 M208.65,4.65 v2.7 M226.80,244.9 v-2.7 M226.80,4.65 v2.7 M244.96,244.9 v-4 M244.96,4.65 v4 M263.12,244.9 v-2.7 M263.12,4.65 v2.7 M281.27,244.9 v-2.7 M281.27,4.65 v2.7 M299.43,244.9 v-2.7 M299.43,4.65 v2.7 M317.58,244.9 v-2.7 M317.58,4.65 v2.7 M335.74,244.9 v-4 M335.74,4.65 v4 M353.90,244.9 v-2.7 M353.90,4.65 v2.7 M372.05,244.9 v-2.7 M372.05,4.65 v2.7 M390.21,244.9 v-2.7 M390.21,4.65 v2.7 M408.36,244.9 v-2.7 M408.36,4.65 v2.7 M426.52,244.9 v-4 M426.52,4.65 v4 M46.5,235.40 h4 M434.3,235.40 h-4 M46.5,225.80 h2.7 M434.3,225.80 h-2.7 M46.5,216.19 h2.7 M434.3,216.19 h-2.7 M46.5,206.59 h2.7 M434.3,206.59 h-2.7 M46.5,196.98 h4 M434.3,196.98 h-4 M46.5,187.38 h2.7 M434.3,187.38 h-2.7 M46.5,177.77 h2.7 M434.3,177.77 h-2.7 M46.5,168.16 h2.7 M434.3,168.16 h-2.7 M46.5,158.56 h4 M434.3,158.56 h-4 M46.5,148.95 h2.7 M434.3,148.95 h-2.7 M46.5,139.35 h2.7 M434.3,139.35 h-2.7 M46.5,129.75 h2.7 M434.3,129.75 h-2.7 M46.5,120.14 h4 M434.3,120.14 h-4 M46.5,110.53 h2.7 M434.3,110.53 h-2.7 M46.5,100.93 h2.7 M434.3,100.93 h-2.7 M46.5,91.32 h2.7 M434.3,91.32 h-2.7 M46.5,81.72 h4 M434.3,81.72 h-4 M46.5,72.12 h2.7 M434.3,72.12 h-2.7 M46.5,62.51 h2.7 M434.3,62.51 h-2.7 M46.5,52.91 h2.7 M434.3,52.91 h-2.7 M46.5,33.69 h2.7 M434.3,33.69 h-2.7 M46.5,24.09 h2.7 M434.3,24.09 h-2.7 M46.5,14.48 h2.7 M434.3,14.48 h-2.7 M46.5,4.88 h4 M434.3,4.88 h-4" stroke="#444" stroke-width="0.85" fill="none"/>
<line x1="279.5" y1="123.3" x2="315" y2="123.3" stroke="#ad0a0a" stroke-width="1.8" stroke-dasharray="2.7 1.86"/>
<line x1="279.5" y1="150.1" x2="315" y2="150.1" stroke="#0aa80a" stroke-width="1.8" stroke-dasharray="6.1 1.65"/>
<line x1="279.5" y1="177.05" x2="315" y2="177.05" stroke="#0808b0" stroke-width="1.8" stroke-dasharray="9.6 2.3"/>
<line x1="279.5" y1="203.95" x2="315" y2="203.95" stroke="#b45c0c" stroke-width="1.8" stroke-dasharray="14.2 7.0"/>
<line x1="279.5" y1="230.9" x2="315" y2="230.9" stroke="#000000" stroke-width="1.8"/>
</svg>
<div class="yl" style="top:-3px;transform:translate(0.20px,0.68px) scaleY(1.08)">0.2</div>
<div class="yl" style="top:36px;transform:translate(0.20px,0.10px) scaleY(1.08)">0.0</div>
<div class="yl" style="top:74px;transform:translate(0.20px,0.52px) scaleY(1.08)"><b>−</b>0.2</div>
<div class="yl" style="top:112px;transform:translate(0.20px,0.94px) scaleY(1.08)"><b>−</b>0.4</div>
<div class="yl" style="top:151px;transform:translate(0.20px,0.36px) scaleY(1.08)"><b>−</b>0.6</div>
<div class="yl" style="top:189px;transform:translate(0.20px,0.78px) scaleY(1.08)"><b>−</b>0.8</div>
<div class="yl" style="top:228px;transform:translate(0.20px,0.20px) scaleY(1.08)"><b>−</b>1.0</div>
<div class="xl" style="left:43px;transform:translate(0.40px,0.00px) scaleY(1.08)">0</div>
<div class="xl" style="left:134px;transform:translate(0.18px,0.00px) scaleY(1.08)">10</div>
<div class="xl" style="left:224px;transform:translate(0.96px,0.00px) scaleY(1.08)">20</div>
<div class="xl" style="left:315px;transform:translate(0.74px,0.00px) scaleY(1.08)">30</div>
<div class="xl" style="left:406px;transform:translate(0.52px,0.00px) scaleY(1.08)">40</div>
<div class="lg" style="top:114px;transform:translate(0.00px,0.55px) scaleY(1.07)"><i>α</i><b>=−</b>46, w<b class="e">=</b>0.15</div>
<div class="lg" style="top:141px;transform:translate(0.00px,0.55px) scaleY(1.07)"><i>α</i><b>=−</b>160, w<b class="e">=</b>0.05</div>
<div class="lg" style="top:168px;transform:translate(0.00px,0.50px) scaleY(1.07)"><i>α</i><b>=−</b>209, w<b class="e">=</b>0</div>
<div class="lg" style="top:195px;transform:translate(0.00px,0.45px) scaleY(1.07)"><i>α</i><b>=−</b>316, w<b>=−</b>0.05</div>
<div class="lg" style="top:222px;transform:translate(0.00px,0.40px) scaleY(1.07)"><i>α</i><b>=−</b>840, w<b>=−</b>0.15</div>
<div class="zl">z</div>
<div class="wl"><i>w</i><span class="sub">eff</span></div>
</body></html>
